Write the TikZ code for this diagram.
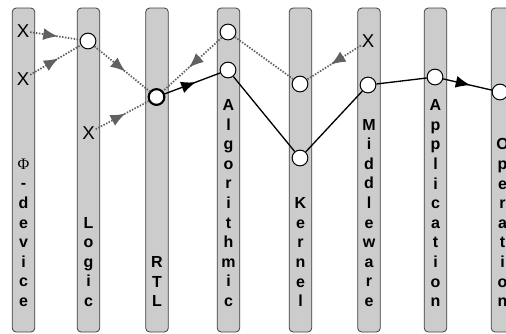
\documentclass[tikz,border=0pt]{standalone}
\usepackage{fontspec}
\setmainfont{Liberation Sans}
\newfontfamily\phifont{Liberation Serif}
\usetikzlibrary{decorations.markings,arrows.meta}

\begin{document}
\begin{tikzpicture}[x=0.75pt,y=-0.75pt,
  layer/.style={draw=black!75, fill=black!20, rounded corners=3pt, line width=0.6pt,
    minimum width=17pt, minimum height=243pt, inner sep=0pt},
  lbl/.style={anchor=south, align=center, inner sep=0pt,
    font=\bfseries\fontsize{12}{14.7}\selectfont},
  state/.style={circle, draw=black, fill=white, line width=0.75pt, inner sep=0pt,
    minimum size=11.8pt},
  cross/.style={inner sep=0.5pt, font=\fontsize{14}{16}\selectfont},
  midtip/.style={postaction={decorate}, decoration={markings,
    mark=at position 0.56 with {\arrow{Latex[length=11pt,width=9pt]}}}},
  hint/.style={draw=black!62, line width=1.3pt, dash pattern=on 1.1pt off 1.1pt},
  flow/.style={draw=black, line width=1pt},
]
\useasboundingbox (0,0) rectangle (506,333);

% abstraction layers
\node[layer] (b1) at (23.5,170) {};
\node[layer] (b2) at (88.5,170) {};
\node[layer] (b3) at (157,170) {};
\node[layer] (b4) at (228.5,170) {};
\node[layer] (b5) at (300.5,170) {};
\node[layer] (b6) at (369,170) {};
\node[layer] (b7) at (435.5,170) {};
\node[layer] (b8) at (502.5,170) {};

% layer names, written top to bottom
\node[lbl] (l1) at (23.5,307) {{\phifont\mdseries Φ}\\-\\d\\e\\v\\i\\c\\e};
\node[lbl] (l2) at (88.5,307) {L\\o\\g\\i\\c};
\node[lbl] (l3) at (157,307) {R\\T\\L};
\node[lbl] (l4) at (228.5,307) {A\\l\\g\\o\\r\\i\\t\\h\\m\\i\\c};
\node[lbl] (l5) at (300.5,307) {K\\e\\r\\n\\e\\l};
\node[lbl] (l6) at (369,307) {M\\i\\d\\d\\l\\e\\w\\a\\r\\e};
\node[lbl] (l7) at (435.5,307) {A\\p\\p\\l\\i\\c\\a\\t\\i\\o\\n};
\node[lbl] (l8) at (502.5,307) {O\\p\\e\\r\\a\\t\\i\\o\\n};

% rejected alternatives
\node[cross] (xa) at (23,31) {X};
\node[cross] (xb) at (23,79) {X};
\node[cross] (xc) at (88.5,133) {X};
\node[cross] (xd) at (368,41) {X};

% chosen points
\node[state] (c2) at (88,41) {};
\node[state, line width=1.6pt] (c3) at (156.5,97) {};
\node[state] (c4a) at (228,32) {};
\node[state] (c4b) at (228,70) {};
\node[state] (c5a) at (300,84) {};
\node[state] (c5b) at (300,158) {};
\node[state] (c6) at (368,85) {};
\node[state] (c7) at (435,77) {};
\node[state] (c8) at (500,92) {};

% dotted influences
\path[hint, midtip] (xa) -- (c2);
\path[hint, midtip] (xb) -- (c2);
\path[hint, midtip] (c2) -- (c3);
\path[hint, midtip] (xc) -- (c3);
\path[hint, midtip] (c4a) -- (c3);
\path[hint] (c5a) -- (c4a);
\path[hint, midtip] (xd) -- (c5a);

% solid design path
\path[flow, midtip] (c3) -- (c4b);
\draw[flow] (c4b) -- (c5b) -- (c6) -- (c7);
\path[flow, midtip] (c7) -- (c8);
\end{tikzpicture}
\end{document}
